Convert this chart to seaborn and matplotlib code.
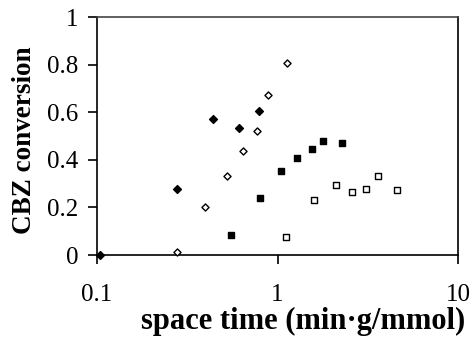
import matplotlib
matplotlib.use("Agg")
import matplotlib.pyplot as plt
import seaborn as sns
import pandas as pd
from matplotlib.ticker import FixedLocator, FixedFormatter, NullLocator

# Data
fd_x = [0.104, 0.276, 0.442, 0.610, 0.789]
fd_y = [0.0, 0.277, 0.573, 0.535, 0.606]

od_x = [0.276, 0.399, 0.524, 0.642, 0.768, 0.883, 1.127]
od_y = [0.014, 0.202, 0.333, 0.437, 0.522, 0.674, 0.808]

fs_x = [0.554, 0.805, 1.048, 1.29, 1.543, 1.798, 2.29]
fs_y = [0.085, 0.241, 0.352, 0.406, 0.444, 0.478, 0.469]

os_x = [1.12, 1.60, 2.10, 2.60, 3.11, 3.60, 4.59]
os_y = [0.077, 0.232, 0.293, 0.266, 0.279, 0.333, 0.272]

xticks = [0.1, 1, 10]
xtick_labels = ["0.1", "1", "10"]
yticks = [0, 0.2, 0.4, 0.6, 0.8, 1.0]
ytick_labels = ["0", "0.2", "0.4", "0.6", "0.8", "1"]

sns.set_theme(style="white")
plt.rcParams["font.family"] = ["Liberation Serif", "DejaVu Serif"]

fig = plt.figure(figsize=(4.72, 3.39), dpi=100)
ax = fig.add_axes([97 / 472, 1 - 255 / 339, (458 - 97) / 472, (255 - 17) / 339])

series = [
    (fd_x, fd_y, "D", "black", "black", 16),
    (od_x, od_y, "D", "white", "black", 13),
    (fs_x, fs_y, "s", "black", "black", 24),
    (os_x, os_y, "s", "white", "black", 19),
]
for xs, ys, mk, fc, ec, sz in series:
    df = pd.DataFrame({"x": xs, "y": ys})
    sns.scatterplot(data=df, x="x", y="y", ax=ax, marker=mk, s=sz,
                    color=fc, edgecolor=ec, linewidth=1.0, legend=False,
                    clip_on=False, zorder=3)

ax.set_xscale("log")
ax.set_xlim(0.1, 10)
ax.set_ylim(0, 1)
ax.xaxis.set_major_locator(FixedLocator(xticks))
ax.xaxis.set_major_formatter(FixedFormatter(xtick_labels))
ax.xaxis.set_minor_locator(NullLocator())
ax.yaxis.set_major_locator(FixedLocator(yticks))
ax.yaxis.set_major_formatter(FixedFormatter(ytick_labels))

for side in ["left", "bottom", "right", "top"]:
    ax.spines[side].set_visible(True)
    ax.spines[side].set_color("black")
    ax.spines[side].set_linewidth(1.2)
ax.spines["top"].set_color("#444444")

ax.tick_params(axis="both", which="major", direction="out", length=6.5,
               width=1.2, color="black", labelsize=18, labelcolor="black",
               bottom=True, left=True)
ax.tick_params(axis="x", pad=14.5)
ax.tick_params(axis="y", pad=7)

ax.set_xlabel("space time (min·g/mmol)", fontsize=22, fontweight="bold",
              color="black")
ax.xaxis.set_label_coords(0.572, -0.31)
ax.xaxis.label.set_verticalalignment("baseline")
ax.set_ylabel("CBZ conversion", fontsize=19.5, fontweight="bold", color="black")
ax.yaxis.set_label_coords(-0.202, 0.483)
ax.yaxis.label.set_verticalalignment("center")

fig.savefig("out.png", dpi=100, facecolor="white")
